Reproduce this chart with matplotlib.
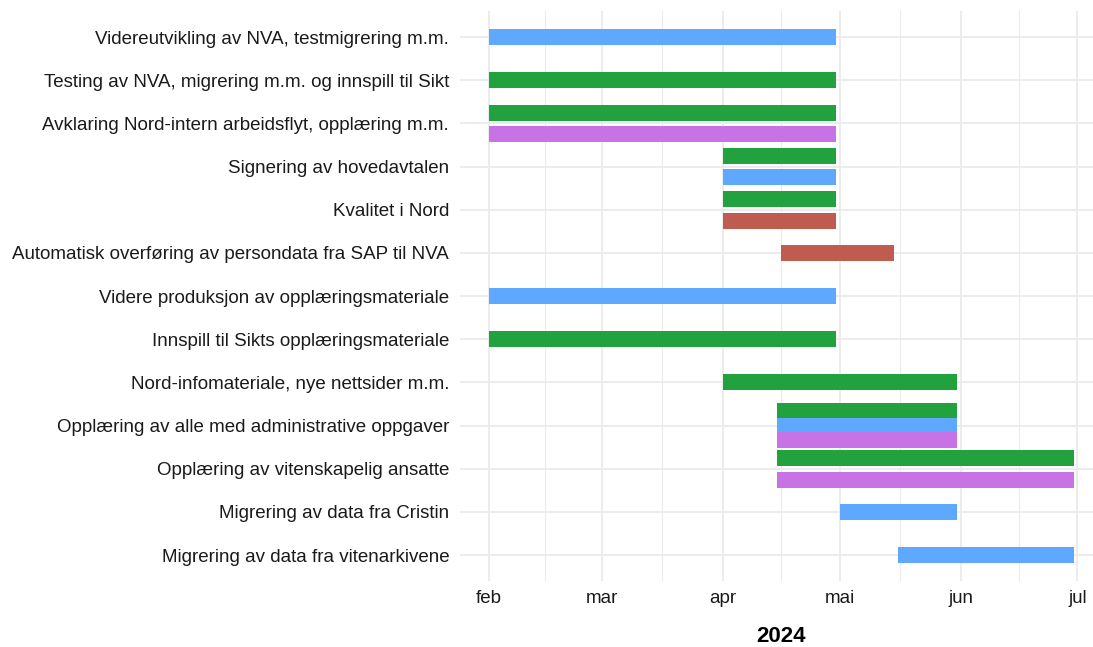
import datetime as dt
import matplotlib
matplotlib.use("Agg")
import matplotlib.pyplot as plt
import matplotlib.dates as mdates
from matplotlib.ticker import FixedLocator

plt.rcParams["font.family"] = ["Liberation Sans", "DejaVu Sans"]

# activities, top to bottom
tasks = [
    "Videreutvikling av NVA, testmigrering m.m.",
    "Testing av NVA, migrering m.m. og innspill til Sikt",
    "Avklaring Nord-intern arbeidsflyt, opplæring m.m.",
    "Signering av hovedavtalen",
    "Kvalitet i Nord",
    "Automatisk overføring av persondata fra SAP til NVA",
    "Videre produksjon av opplæringsmateriale",
    "Innspill til Sikts opplæringsmateriale",
    "Nord-infomateriale, nye nettsider m.m.",
    "Opplæring av alle med administrative oppgaver",
    "Opplæring av vitenskapelig ansatte",
    "Migrering av data fra Cristin",
    "Migrering av data fra vitenarkivene",
]
start_dates = [
    "2024-02-01", "2024-02-01", "2024-02-01", "2024-04-01", "2024-04-01",
    "2024-04-16", "2024-02-01", "2024-02-01", "2024-04-01", "2024-04-15",
    "2024-04-15", "2024-05-01", "2024-05-16",
]
end_dates = [
    "2024-04-30", "2024-04-30", "2024-04-30", "2024-04-30", "2024-04-30",
    "2024-05-15", "2024-04-30", "2024-04-30", "2024-05-31", "2024-05-31",
    "2024-06-30", "2024-05-31", "2024-06-30",
]
# groups involved in each activity (dodged within a row)
task_groups = [
    ["b"], ["g"], ["g", "p"], ["g", "b"], ["g", "r"], ["r"], ["b"], ["g"],
    ["g"], ["g", "b", "p"], ["g", "p"], ["b"], ["b"],
]
group_colors = {"g": "#21a23f", "b": "#5fa8ff", "p": "#c873e5", "r": "#c05b50"}

month_ticks = ["2024-02-01", "2024-03-01", "2024-04-01", "2024-05-01", "2024-06-01", "2024-07-01"]
month_labels = ["feb", "mar", "apr", "mai", "jun", "jul"]

BAR_H = 0.37
DODGE = 1.0


def d2n(s):
    return mdates.date2num(dt.datetime.strptime(s, "%Y-%m-%d"))


fig = plt.figure(figsize=(10.93, 6.47), dpi=100)
ax = fig.add_axes([0.4205, 0.102, 0.5885, 0.8808])

for i, task in enumerate(tasks):
    y = i + 1
    s, e = d2n(start_dates[i]), d2n(end_dates[i])
    groups = task_groups[i]
    n = len(groups)
    for j, g in enumerate(groups):
        off = (j - (n - 1) / 2) * DODGE / n
        ax.barh(y + off, e - s, left=s, height=BAR_H, color=group_colors[g],
                linewidth=0, zorder=3)

x0 = d2n(start_dates[0])
x1 = d2n("2024-06-30")
pad = (x1 - x0) * 0.05
ax.set_xlim(x0 - pad, x1 + pad)
ax.set_ylim(len(tasks) + 0.6, 0.4)

ticks = [d2n(t) for t in month_ticks]
ax.xaxis.set_major_locator(FixedLocator(ticks))
ax.set_xticklabels(month_labels)
minor = [(a + b) / 2 for a, b in zip(ticks[:-1], ticks[1:])]
ax.xaxis.set_minor_locator(FixedLocator(minor))

ax.set_yticks(range(1, len(tasks) + 1))
ax.set_yticklabels(tasks)

ax.tick_params(axis="both", which="both", length=0, labelsize=13.5, colors="#1a1a1a")
ax.tick_params(axis="x", pad=6.5)
ax.tick_params(axis="y", pad=7.5)

ax.grid(which="major", axis="both", color="#ebebeb", linewidth=1.3, zorder=0)
ax.grid(which="minor", axis="x", color="#ebebeb", linewidth=0.8, zorder=0)
ax.set_axisbelow(True)
for sp in ax.spines.values():
    sp.set_visible(False)

fig.text(781 / 1093, 1 - 637 / 647, "2024", ha="center", va="center",
         fontsize=16, fontweight="bold", color="#000000")

fig.savefig("out.png", dpi=100)
